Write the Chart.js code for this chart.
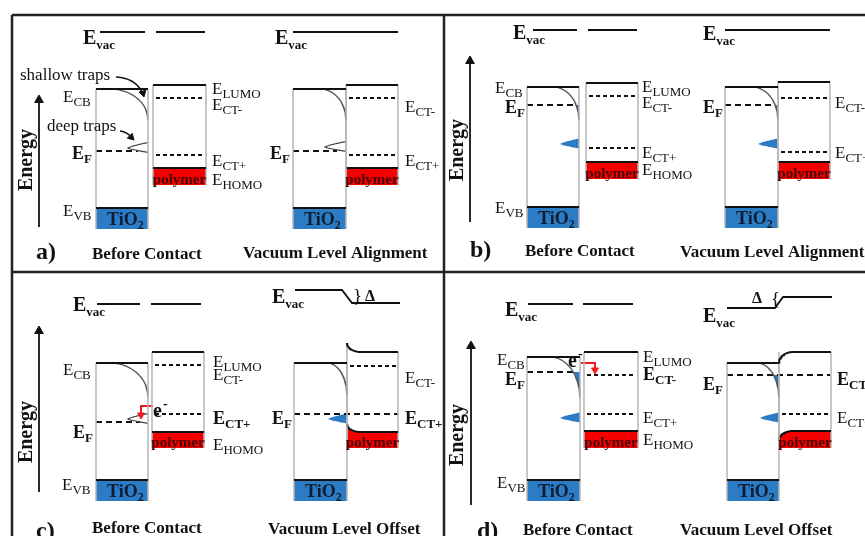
<!DOCTYPE html>
<html>
<head>
<meta charset="utf-8">
<script src="https://cdn.jsdelivr.net/npm/chart.js@4.4.1/dist/chart.umd.min.js"></script>
<style>
  body { margin: 0; background: #fff; }
  canvas { display: block; }
</style>
</head>
<body>
<canvas id="bands" width="865" height="536"></canvas>
<script>
'use strict';
// sketches, left to right and top to bottom: a, a', b, b', c, c', d, d'
let kinds = ['before', 'align', 'before', 'align', 'before', 'offset', 'before', 'offset'];

// box edges (x)
let tioLeft = [96, 293, 527, 725, 96, 294, 527, 727];
let tioRight = [148, 346, 579, 778, 148, 347, 580, 779];
let polyLeft = [153, 346, 586, 778, 152, 347, 584, 779];
let polyRight = [206, 398, 638, 830, 204, 398, 638, 831];

// energy levels (y counted down the page)
let eCB = [89, 89, 87, 87, 363, 363, 357, 363];
let eVB = [208, 208, 207, 207, 480, 480, 480, 480];
let vbFloor = [229, 229, 228, 228, 501, 501, 501, 501];
let eLUMO = [85, 85, 83, 82, 352, 352, 352, 352];
let eCTminus = [98, 98, 96, 98, 365, 366, 375, 375];
let eCTplus = [155, 155, 148, 152, 414, 414, 414, 414];
let eHOMO = [168, 168, 162, 162, 432, 432, 431, 431];
let homoFloor = [185, 185, 179, 179, 448, 448, 448, 448];
let eF = [151, 151, 105, 105, 422, 414, 372, 375];
let eFEnd = [138, 337, 575, 775, 140, 398, 575, 830];

// vacuum level: TiO2 side, polymer side, x stops
let vacTio = [32, 32, 30, 30, 304, 290, 304, 308];
let vacPoly = [32, 32, 30, 30, 304, 303, 304, 297];
let vacX = [[100, 145, 156, 205], [293, 0, 0, 398], [533, 577, 588, 637], [725, 0, 0, 830],
            [97, 140, 151, 201], [295, 342, 352, 400], [528, 573, 583, 633], [727, 775, 783, 832]];

// band bending and traps
let bendFrom = [110, 320, 553, 752, 110, 327, 550, 757];
let bendTo = [120, 120, 120, 120, 397, 395, 398, 398];
let trapTip = [128, 325, 560, 758, 128, 328, 560, 760];
let trapY = [148, 147, 144, 144, 419, 419, 418, 418];
let trapFilled = [false, false, true, true, false, true, true, true];
let shallowFilled = [false, false, true, true, false, false, true, true];
let lumoShift = [0, 0, 0, 0, 0, -9, 0, 11];
let homoShift = [0, 0, 0, 0, 0, -8, 0, 9];

// energy axes for a, b, c, d
let axisX = [39, 470, 39, 471];
let axisTop = [95, 56, 326, 341];
let axisBottom = [227, 222, 492, 505];

let tioBlue = '#2b7cc4';
let polyRed = '#f50000';
let edgeGrey = '#b5b5b5';
let ink = '#111';
let electronRed = '#ee1c1c';

// level labels: main, subscript, x, baseline, bold
let levelLabels = [
  ['E', 'CB', 63, 102, false], ['E', 'F', 72, 159, true], ['E', 'VB', 63, 216, false],
  ['E', 'LUMO', 212, 94, false], ['E', 'CT-', 212, 110, false], ['E', 'CT+', 212, 166, false], ['E', 'HOMO', 212, 185, false],
  ['E', 'F', 270, 159, true], ['E', 'CT-', 405, 112, false], ['E', 'CT+', 405, 166, false],
  ['E', 'CB', 495, 93, false], ['E', 'F', 505, 113, true], ['E', 'VB', 495, 213, false],
  ['E', 'LUMO', 642, 92, false], ['E', 'CT-', 642, 108, false], ['E', 'CT+', 642, 158, false], ['E', 'HOMO', 642, 175, false],
  ['E', 'F', 703, 113, true], ['E', 'CT-', 835, 108, false], ['E', 'CT+', 835, 158, false],
  ['E', 'CB', 63, 375, false], ['E', 'F', 73, 438, true], ['E', 'VB', 62, 490, false],
  ['E', 'LUMO', 213, 367, false], ['E', 'CT-', 213, 380, false], ['E', 'CT+', 213, 424, true], ['E', 'HOMO', 213, 450, false],
  ['E', 'F', 272, 424, true], ['E', 'CT-', 405, 383, false], ['E', 'CT+', 405, 424, true],
  ['E', 'CB', 497, 365, false], ['E', 'F', 505, 385, true], ['E', 'VB', 497, 488, false],
  ['E', 'LUMO', 643, 362, false], ['E', 'CT-', 643, 380, true], ['E', 'CT+', 643, 423, false], ['E', 'HOMO', 643, 445, false],
  ['E', 'F', 703, 390, true], ['E', 'CT-', 837, 385, true], ['E', 'CT+', 837, 423, false]
];
let vacLabelX = [83, 275, 513, 703, 73, 272, 505, 703];
let vacLabelY = [44, 44, 39, 40, 311, 303, 316, 322];
let energyX = [27, 458, 27, 458];
let energyY = [160, 150, 432, 435];
let panelNames = ['a)', 'b)', 'c)', 'd)'];
let panelX = [36, 470, 36, 477];
let panelY = [259, 257, 538, 538];
let titles = ['Before Contact', 'Vacuum Level Alignment', 'Before Contact', 'Vacuum Level Alignment',
              'Before Contact', 'Vacuum Level Offset', 'Before Contact', 'Vacuum Level Offset'];
let titleX = [92, 243, 525, 680, 92, 268, 523, 680];
let titleY = [259, 258, 256, 257, 533, 534, 535, 535];

let sets = [];
let notes = [];

function pts(list) {
  return list.map(p => ({ x: p[0], y: p[1] }));
}
function stroke(list, color, width, dash) {
  sets.push({ data: pts(list), borderColor: color, borderWidth: width, borderDash: dash || [],
    fill: false, pointRadius: 0, order: 1 });
}
function paint(list, color, level) {
  sets.push({ data: pts(list), borderColor: 'rgba(0,0,0,0)', borderWidth: 1, backgroundColor: color,
    fill: { value: level }, pointRadius: 0, order: 3 });
}
function paintBetween(lower, upper, color) {
  sets.push({ data: pts(lower), borderColor: 'rgba(0,0,0,0)', borderWidth: 1, fill: false, pointRadius: 0, order: 3 });
  sets.push({ data: pts(upper), borderColor: 'rgba(0,0,0,0)', borderWidth: 1, backgroundColor: color,
    fill: '-1', pointRadius: 0, order: 3 });
}
function head(x, y, angle, r, color) {
  let a = angle * Math.PI / 180;
  sets.push({ data: [{ x: x - r * Math.sin(a), y: y + r * Math.cos(a) }], showLine: false,
    pointStyle: 'triangle', pointRadius: r, pointRotation: angle,
    pointBackgroundColor: color, pointBorderColor: color, pointBorderWidth: 1, order: 0 });
}
// horizontal at the start, vertical at the end
function quarter(x0, y0, x1, y1) {
  let out = [];
  for (let k = 0; k <= 60; k++) {
    let a = Math.PI / 2 * k / 60;
    out.push([x0 + (x1 - x0) * Math.sin(a), y0 + (y1 - y0) * (1 - Math.cos(a))]);
  }
  return out;
}
function polyLevel(l, r, y, shift) {
  if (!shift) return [[l, y], [r, y]];
  let out = [];
  for (let k = 0; k <= 20; k++) {
    let a = Math.PI / 2 * k / 20;
    out.push([l + 14 * (1 - Math.cos(a)), y + shift - shift * Math.sin(a)]);
  }
  out.push([r, y]);
  return out;
}
function curveThrough(p0, c, p1) {
  let out = [];
  for (let k = 0; k <= 16; k++) {
    let t = k / 16;
    out.push([(1 - t) * (1 - t) * p0[0] + 2 * t * (1 - t) * c[0] + t * t * p1[0],
              (1 - t) * (1 - t) * p0[1] + 2 * t * (1 - t) * c[1] + t * t * p1[1]]);
  }
  return out;
}

// frame
stroke([[12, 15], [865, 15]], '#222', 2.5);
stroke([[12, 15], [12, 536]], '#222', 2.5);
stroke([[444, 15], [444, 536]], '#222', 2.5);
stroke([[12, 272], [865, 272]], '#222', 2.5);

for (let i = 0; i < kinds.length; i++) {
  let tl = tioLeft[i], tr = tioRight[i], pl = polyLeft[i], pr = polyRight[i];
  let v = vacX[i];
  if (kinds[i] === 'before') {
    stroke([[v[0], vacTio[i]], [v[1], vacTio[i]]], ink, 1.8);
    stroke([[v[2], vacPoly[i]], [v[3], vacPoly[i]]], ink, 1.8);
  } else if (kinds[i] === 'align') {
    stroke([[v[0], vacTio[i]], [v[3], vacTio[i]]], ink, 1.8);
  } else {
    stroke([[v[0], vacTio[i]], [v[1], vacTio[i]], [v[2], vacPoly[i]], [v[3], vacPoly[i]]], ink, 1.8);
  }

  // TiO2
  paint([[tl, eVB[i]], [tr, eVB[i]]], tioBlue, vbFloor[i]);
  stroke([[tl, eVB[i]], [tr, eVB[i]]], ink, 2);
  stroke([[tl, eCB[i]], [tr, eCB[i]]], ink, 2);
  stroke([[tl, eCB[i]], [tl, vbFloor[i]]], edgeGrey, 1.5);
  stroke([[tr, eCB[i]], [tr, vbFloor[i]]], edgeGrey, 1.5);
  let curve = quarter(bendFrom[i], eCB[i], tr, bendTo[i]);
  if (shallowFilled[i]) paint(curve.filter(p => p[1] >= eF[i]), tioBlue, eF[i]);
  stroke(curve, '#555', 1.3);

  let up = [], down = [];
  for (let k = 0; k <= 14; k++) {
    let t = k / 14;
    let x = trapTip[i] + (tr - trapTip[i]) * t;
    let h = 5.5 * Math.pow(t, 0.75);
    up.push([x, trapY[i] - h]);
    down.push([x, trapY[i] + h * 0.8]);
  }
  if (trapFilled[i]) paintBetween(down, up, tioBlue);
  else stroke(up.slice().reverse().concat(down), '#444', 1.2);

  // polymer
  let lumo = polyLevel(pl, pr, eLUMO[i], lumoShift[i]);
  let homo = polyLevel(pl, pr, eHOMO[i], homoShift[i]);
  paint(homo, polyRed, homoFloor[i]);
  stroke(homo, ink, 2);
  stroke(lumo, ink, 2);
  stroke([[pl, Math.min(eLUMO[i], eLUMO[i] + lumoShift[i])], [pl, homoFloor[i]]], edgeGrey, 1.5);
  stroke([[pr, eLUMO[i]], [pr, homoFloor[i]]], edgeGrey, 1.5);
  [eCTminus[i], eCTplus[i]].forEach(y => {
    if (Math.abs(y - eF[i]) < 3 && eFEnd[i] > pl) return;
    stroke([[pl + 3, y], [pr - 2, y]], ink, 1.8, [4, 3]);
  });

  // Fermi level
  stroke([[tl, eF[i]], [eFEnd[i], eF[i]]], ink, 2, [6, 4]);

  notes.push({ text: 'polymer', x: (pl + pr) / 2, y: homoFloor[i] - 1, size: 15, bold: true, color: '#4a0505', align: 'center' });
  notes.push({ text: 'TiO', sub: '2', subSize: 12, drop: 4, x: tl + 11, y: vbFloor[i] - 4, size: 18, bold: true, color: '#0e1d33' });
  notes.push({ text: 'E', sub: 'vac', subSize: 13, drop: 5, x: vacLabelX[i], y: vacLabelY[i], size: 20, bold: true });
  notes.push({ text: titles[i], x: titleX[i], y: titleY[i], size: 17, bold: true });
}

// energy axes
for (let j = 0; j < axisX.length; j++) {
  stroke([[axisX[j], axisBottom[j]], [axisX[j], axisTop[j] + 4]], ink, 1.8);
  head(axisX[j], axisTop[j], 0, 5, ink);
  notes.push({ text: 'Energy', x: energyX[j], y: energyY[j], size: 20, bold: true, align: 'center', angle: -90, base: 'middle' });
  notes.push({ text: panelNames[j], x: panelX[j], y: panelY[j], size: 24, bold: true });
}

// trap pointers in a)
stroke(curveThrough([116, 77], [136, 78], [143, 94]), ink, 1.5);
head(144, 97, 165, 4, ink);
stroke(curveThrough([120, 131], [127, 132], [131, 137]), ink, 1.5);
head(134, 140, 135, 4, ink);
notes.push({ text: 'shallow traps', x: 20, y: 80, size: 17 });
notes.push({ text: 'deep traps', x: 47, y: 131, size: 17 });

// electron transfer in c) and d)
stroke([[153, 406], [141, 406], [141, 413]], electronRed, 2);
head(141, 419, 180, 4, electronRed);
notes.push({ text: 'e', sup: '-', x: 153, y: 417, size: 20, bold: true });
stroke([[581, 363], [595, 363], [595, 368]], electronRed, 2);
head(595, 374, 180, 4, electronRed);
notes.push({ text: 'e', sup: '-', x: 568, y: 367, size: 20, bold: true });

// offsets
notes.push({ text: '}', x: 353, y: 302, size: 19 });
notes.push({ text: '\u0394', x: 365, y: 301, size: 16, bold: true });
notes.push({ text: '\u0394', x: 752, y: 303, size: 16, bold: true });
notes.push({ text: '{', x: 771, y: 305, size: 19 });

levelLabels.forEach(l => {
  notes.push({ text: l[0], sub: l[1], x: l[2], y: l[3], size: l[4] ? 18 : 17,
    subSize: 13, drop: 4, bold: l[4] });
});

let textPlugin = {
  id: 'notes',
  afterDatasetsDraw(chart) {
    let ctx = chart.ctx;
    notes.forEach(n => {
      let font = s => (n.bold ? 'bold ' : '') + s + 'px "Liberation Serif", "Times New Roman", serif';
      ctx.save();
      ctx.translate(chart.scales.x.getPixelForValue(n.x), chart.scales.y.getPixelForValue(n.y));
      if (n.angle) ctx.rotate(n.angle * Math.PI / 180);
      ctx.fillStyle = n.color || ink;
      ctx.textBaseline = n.base || 'alphabetic';
      ctx.font = font(n.size);
      let w = ctx.measureText(n.text).width;
      let start = n.align === 'center' ? -w / 2 : 0;
      ctx.fillText(n.text, start, 0);
      if (n.sub) {
        ctx.font = font(n.subSize);
        ctx.fillText(n.sub, start + w, n.drop);
      }
      if (n.sup) {
        ctx.font = font(14);
        ctx.fillText(n.sup, start + w + 1, -9);
      }
      ctx.restore();
    });
  }
};

new Chart(document.getElementById('bands'), {
  type: 'line',
  data: { datasets: sets },
  options: {
    responsive: false,
    animation: false,
    devicePixelRatio: 1,
    layout: { padding: 0, autoPadding: false },
    scales: {
      x: { type: 'linear', min: 0, max: 865, display: false },
      y: { type: 'linear', min: 0, max: 536, reverse: true, display: false }
    },
    elements: { line: { tension: 0 } },
    plugins: { legend: { display: false }, tooltip: { enabled: false } }
  },
  plugins: [textPlugin]
});
</script>
</body>
</html>
